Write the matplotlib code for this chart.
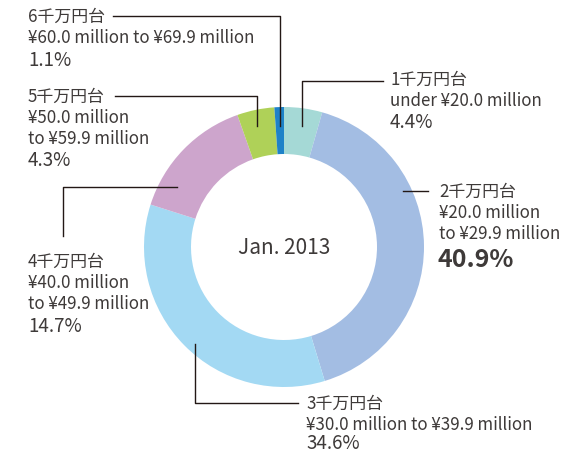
import matplotlib.pyplot as plt

plt.rcParams['font.family'] = ['Noto Sans CJK JP', 'DejaVu Sans']

# 価格帯別の構成比 (Jan. 2013)
labels = ["1千万円台", "2千万円台", "3千万円台", "4千万円台", "5千万円台", "6千万円台"]
ranges = [
    ["under ¥20.0 million"],
    ["¥20.0 million", "to ¥29.9 million"],
    ["¥30.0 million to ¥39.9 million"],
    ["¥40.0 million", "to ¥49.9 million"],
    ["¥50.0 million", "to ¥59.9 million"],
    ["¥60.0 million to ¥69.9 million"],
]
shares = [4.4, 40.9, 34.6, 14.7, 4.3, 1.1]
colors = ["#a5d9d6", "#a3bde3", "#a3d9f3", "#cda5cc", "#afd158", "#1e82c8"]

W, H = 566, 456
fig = plt.figure(figsize=(W / 100, H / 100), dpi=100)
ax = fig.add_axes([0, 0, 1, 1])

cx, cy = 284, H - 248
ax.pie(shares, colors=colors, startangle=90, counterclock=False,
       center=(cx, cy), radius=140, frame=True,
       wedgeprops=dict(width=47, edgecolor='none'))
ax.set_xlim(0, W)
ax.set_ylim(0, H)
ax.set_aspect('equal')
ax.axis('off')

txt = "#3e3a39"
lc = "#231815"

def y(p):
    return H - p

# leader lines (pixel coords from top)
leaders = [
    [(383, 82), (302, 82), (302, 127)],      # 1千万
    [(428, 192), (403, 192)],                # 2千万
    [(298, 404), (195, 404), (195, 345)],    # 3千万
    [(63, 237), (63, 188), (177, 188)],      # 4千万
    [(115, 97), (257, 97), (257, 127)],      # 5千万
    [(113, 17), (280, 17), (280, 127)],      # 6千万
]
for pts in leaders:
    ax.plot([p[0] for p in pts], [y(p[1]) for p in pts], color=lc, lw=1)

# label blocks: x, y of first line
pos = [(390, 80), (439, 192), (306, 404), (28, 262), (28, 97), (28, 17)]
fs = 12.2
for i, (x0, y0) in enumerate(pos):
    lines = [labels[i]] + ranges[i]
    for k, s in enumerate(lines):
        ax.text(x0, y(y0 + 21 * k), s, fontsize=fs, color=txt, va='center', ha='left')
    yp = y0 + 21 * len(lines)
    if i == 1:
        ax.text(x0 - 1, y(yp + 5), f"{shares[i]}%", fontsize=18, fontweight='bold',
                color=txt, va='center', ha='left')
    else:
        ax.text(x0, y(min(yp + 1, 444)), f"{shares[i]}%", fontsize=13.5, color=txt,
                va='center', ha='left')

ax.text(cx, cy, "Jan. 2013", fontsize=15, color=txt, ha='center', va='center')

fig.savefig("out.png", dpi=100)
